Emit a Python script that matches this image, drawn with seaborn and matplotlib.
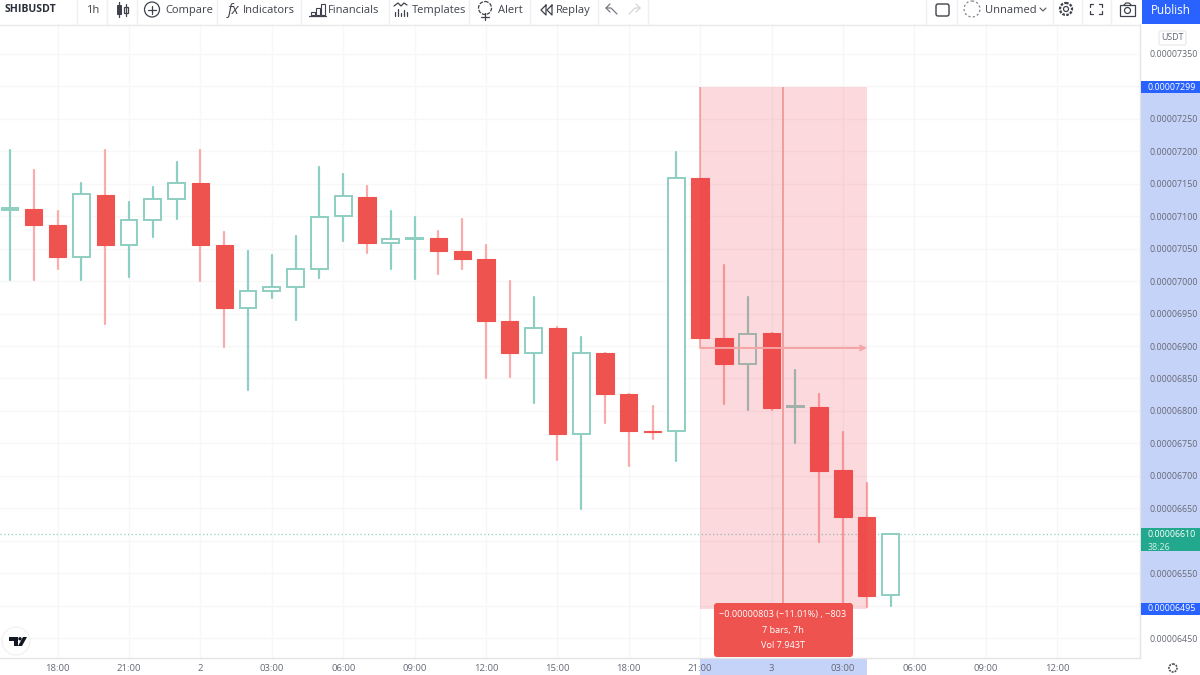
import pandas as pd
import seaborn as sns
import matplotlib.pyplot as plt
from matplotlib.patches import Rectangle, FancyBboxPatch, Circle, Polygon

# hourly candles, prices in units of 1e-8 USDT
opens = [7110, 7111, 7086, 7037, 7133, 7056, 7094, 7127, 7151, 7056, 6959, 6985, 6991, 7019, 7100,
         7130, 7059, 7065, 7066, 7046, 7034, 6939, 6889, 6928, 6764, 6889, 6826, 6769, 6769,
         7159, 6912, 6872, 6920, 6806, 6806, 6709, 6636, 6516]
closes = [7112, 7086, 7037, 7134, 7056, 7094, 7127, 7151, 7056, 6959, 6985, 6991, 7019, 7099, 7131,
          7059, 7065, 7066, 7046, 7034, 6939, 6889, 6928, 6764, 6889, 6826, 6769, 6767, 7159,
          6912, 6872, 6919, 6805, 6807, 6707, 6636, 6515, 6610]
highs = [7202, 7171, 7108, 7151, 7202, 7122, 7145, 7184, 7202, 7076, 7046, 7040, 7070, 7176, 7165,
         7146, 7108, 7099, 7077, 7096, 7056, 7000, 6976, 6930, 6914, 6889, 6826, 6808, 7199,
         7159, 7025, 6976, 6920, 6863, 6826, 6767, 6689, 6610]
lows = [7002, 7002, 7019, 7002, 6934, 7006, 7068, 7096, 7000, 6898, 6832, 6974, 6940, 7005, 7062,
        7043, 7019, 7003, 7011, 7019, 6851, 6852, 6812, 6724, 6649, 6781, 6715, 6757, 6723,
        6912, 6811, 6801, 6801, 6751, 6598, 6504, 6498, 6499]

price_ticks = [7350, 7250, 7200, 7150, 7100, 7050, 7000, 6950, 6900, 6850, 6800, 6750, 6700, 6650, 6550, 6450]
grid_prices = [7350, 7300, 7250, 7200, 7150, 7100, 7050, 7000, 6950, 6900, 6850, 6800, 6750, 6700,
               6650, 6600, 6550, 6500, 6450]
time_ticks = [2, 5, 8, 11, 14, 17, 20, 23, 26, 29, 32, 35, 38, 41, 44]
time_labels = ["18:00", "21:00", "2", "03:00", "06:00", "09:00", "12:00", "15:00", "18:00", "21:00",
               "3", "03:00", "06:00", "09:00", "12:00"]

range_start, range_end = 29, 36
range_top, range_bottom = 7299, 6495
last_price = 6610

RED = "#ef5350"
RED_WICK = "#f8acac"
TEAL = "#8fcec2"
TEXT = "#3f424c"
AXIS_TEXT = "#666975"
BLUE = "#2962ff"
PALE_BLUE = "#c6d3f8"
GRID = "#f7f7f8"

candles = pd.DataFrame({"open": opens, "close": closes, "high": highs, "low": lows})
candles["bar"] = candles.index
candles["up"] = candles["close"] >= candles["open"]

# two rows per candle, one line each for the wicks
wicks = candles.melt(id_vars=["bar", "up"], value_vars=["high", "low"], value_name="price")

sns.set_theme(style="white")
plt.rcParams["font.family"] = ["Open Sans", "DejaVu Sans"]

fig = plt.figure(figsize=(12, 6.75), dpi=100)
ax = fig.add_axes([0, 17 / 675, 1140 / 1200, 634 / 675])

sns.lineplot(data=wicks, x="bar", y="price", units="bar", hue="up", estimator=None, orient="y",
             sort=False, legend=False, palette={True: TEAL, False: RED_WICK}, lw=1.6, ax=ax, zorder=2)

up = candles[candles["up"]]
down = candles[~candles["up"]]
ax.bar(up["bar"], up["close"] - up["open"], bottom=up["open"], width=0.71,
       facecolor="white", edgecolor=TEAL, lw=1.4, zorder=3)
ax.bar(down["bar"], down["close"] - down["open"], bottom=down["open"], width=0.73,
       facecolor=RED, edgecolor=RED, lw=0.8, zorder=3)

ax.set_xlim(-0.42, 47.48)
ax.set_ylim(7350 - 1.541 * 604, 7350 + 1.541 * 30)
ax.set_yticks(grid_prices)
ax.set_yticklabels([f"{p * 1e-8:.8f}" if p in price_ticks else "" for p in grid_prices])
ax.yaxis.tick_right()
ax.set_xticks(time_ticks)
ax.set_xticklabels(time_labels)
ax.set_xlabel("")
ax.set_ylabel("")
ax.tick_params(axis="y", length=0, pad=7, labelsize=6.4, labelcolor=AXIS_TEXT)
ax.tick_params(axis="x", length=0, pad=4, labelsize=6.8, labelcolor=AXIS_TEXT)
ax.set_axisbelow(True)
ax.grid(True, color=GRID, lw=1)
for name in ["top", "left"]:
    ax.spines[name].set_visible(False)
for name in ["right", "bottom"]:
    ax.spines[name].set_color("#e3e4e8")
    ax.spines[name].set_linewidth(1)

# last price line
ax.axhline(last_price, color="#8fd0c3", lw=0.9, ls=(0, (1, 2)), zorder=1)

# measured range, drawn over the candles
mid_x = (range_start + range_end) / 2
mid_y = (range_top + range_bottom) / 2
ax.add_patch(Rectangle((range_start, range_bottom), range_end - range_start, range_top - range_bottom,
                       facecolor="#f23645", alpha=0.19, edgecolor="none", zorder=4))
ax.vlines(range_start, mid_y, range_top, color="#f8acac", lw=1.3, zorder=2)
ax.vlines(mid_x, range_bottom, range_top, color="#ef9393", lw=1.2, zorder=5)
ax.annotate("", xy=(range_end, mid_y), xytext=(range_start, mid_y),
            arrowprops=dict(arrowstyle="->", color="#f4a4a4", lw=1.4, mutation_scale=8,
                            shrinkA=0, shrinkB=0), zorder=5)

# highlighted stretches on both axes
ax.add_patch(Rectangle((1, range_bottom), 60 / 1140, range_top - range_bottom, facecolor=PALE_BLUE,
                       edgecolor="none", transform=ax.get_yaxis_transform(), clip_on=False, zorder=0))
ax.add_patch(Rectangle((range_start, -17 / 634), range_end - range_start, 17 / 634, facecolor=PALE_BLUE,
                       edgecolor="none", transform=ax.get_xaxis_transform(), clip_on=False, zorder=0))

# everything outside the plot goes on a pixel overlay
ui = fig.add_axes([0, 0, 1, 1], zorder=5)
ui.set_xlim(0, 1200)
ui.set_ylim(675, 0)
ui.axis("off")
ui.patch.set_alpha(0)


def price_y(p):
    return 54 + (7350 - p) * 0.6489


def tag(p, text, colour, height=12):
    y = price_y(p)
    ui.add_patch(Rectangle((1141, y - 6), 59, height, facecolor=colour, edgecolor="none"))
    ui.text(1172, y, text, color="white", fontsize=6.4, ha="center", va="center")


tag(range_top, "0.00007299", BLUE)
tag(last_price, "0.00006610", "#22a88c", height=23)
ui.text(1148, 547, "38:26", color="#d8f0ea", fontsize=6.4, ha="left", va="center")
tag(range_bottom, "0.00006495", BLUE)

# tooltip
ui.add_patch(FancyBboxPatch((716, 605), 135, 50, boxstyle="round,pad=2,rounding_size=3",
                            facecolor=RED, edgecolor="none"))
ui.text(783, 615, "−0.00000803 (−11.01%) , −803", color="white", fontsize=6.6, ha="center", va="center")
ui.text(783, 630, "7 bars, 7h", color="white", fontsize=6.6, ha="center", va="center")
ui.text(783, 645, "Vol 7.943T", color="white", fontsize=6.6, ha="center", va="center")

# toolbar
ui.plot([0, 1140], [24.5, 24.5], color="#e9eaee", lw=1)
for x in [77, 107, 137, 217, 301, 389, 469, 530, 598, 648, 926, 957, 1053, 1082, 1111]:
    ui.plot([x, x], [0, 24], color="#eeeff2", lw=1)
ui.text(5, 10, "SHIBUSDT", color="#2a2e39", fontsize=7.6, fontweight="bold", va="center")
for x, label in [(86, "1h"), (165, "Compare"), (243, "Indicators"), (328, "Financials"),
                 (412, "Templates"), (498, "Alert"), (556, "Replay"), (985, "Unnamed")]:
    ui.text(x, 10.5, label, color=TEXT, fontsize=8, va="center")

icon = dict(color="#3f424c", lw=0.9)
# candle type
ui.add_patch(Rectangle((117, 5), 4, 9, facecolor="#3f424c", edgecolor="#3f424c", lw=0.7))
ui.plot([119, 119], [2, 17], **icon)
ui.add_patch(Rectangle((124, 7), 4, 6, facecolor="white", edgecolor="#3f424c", lw=0.9))
ui.plot([126, 126], [4, 16], **icon)
# compare
ui.add_patch(Circle((152, 9.5), 7.5, facecolor="none", edgecolor="#3f424c", lw=0.9))
ui.plot([148, 156], [9.5, 9.5], **icon)
ui.plot([152, 152], [5.5, 13.5], **icon)
# indicators
ui.text(233, 10, "fx", color="#3f424c", fontsize=10.5, style="italic", ha="center", va="center")
# financials
for x, top in [(311, 12), (316, 8), (321, 4)]:
    ui.add_patch(Rectangle((x, top), 4, 15 - top, facecolor="none", edgecolor="#3f424c", lw=0.8))
ui.plot([309, 326], [15.5, 15.5], **icon)
# templates
ui.plot([394, 398, 401, 404, 407], [6, 3, 6, 3, 5], **icon)
for x, top in [(395, 12), (398, 9), (401, 13), (404, 10), (407, 12)]:
    ui.plot([x, x], [top, 16], **icon)
# alert
ui.add_patch(Circle((485, 8), 6.5, facecolor="none", edgecolor="#3f424c", lw=0.9, ls=(0, (3, 1))))
ui.plot([485, 485], [13, 20], **icon)
ui.plot([481, 489], [17, 17], **icon)
# replay
ui.plot([546, 541, 546, 546], [5, 10, 15, 5], **icon)
ui.plot([552, 547, 552, 552], [5, 10, 15, 5], **icon)
# undo and redo
ui.plot([617, 611, 606, 610], [14, 8, 8, 4], color="#777a85", lw=0.9)
ui.plot([606, 610], [8, 12], color="#777a85", lw=0.9)
ui.plot([629, 635, 640, 636], [14, 8, 8, 4], color="#d5d6da", lw=0.9)
ui.plot([640, 636], [8, 12], color="#d5d6da", lw=0.9)

# right side of the toolbar
ui.add_patch(FancyBboxPatch((936, 4), 13, 12, boxstyle="round,pad=0,rounding_size=2",
                            facecolor="none", edgecolor="#3f424c", lw=1))
ui.add_patch(Circle((972, 9), 8, facecolor="none", edgecolor="#777a85", lw=0.8, ls=(0, (2, 2))))
ui.plot([1040, 1043, 1046], [8, 11, 8], color="#555", lw=0.8)
ui.add_patch(Circle((1066, 9), 6, facecolor="none", edgecolor="#3f424c", lw=1.6, ls=(0, (1.2, 0.6))))
ui.add_patch(Circle((1066, 9), 2.5, facecolor="none", edgecolor="#3f424c", lw=0.9))
for sx, sy in [(-1, -1), (1, -1), (-1, 1), (1, 1)]:
    cx, cy = 1096 + sx * 6, 9 + sy * 5
    ui.plot([cx, cx - sx * 3], [cy, cy], **icon)
    ui.plot([cx, cx], [cy, cy - sy * 3], **icon)
ui.add_patch(Rectangle((1120, 5), 15, 11, facecolor="none", edgecolor="#3f424c", lw=0.9))
ui.add_patch(Circle((1127.5, 10.5), 3, facecolor="none", edgecolor="#3f424c", lw=0.9))
ui.plot([1124, 1126, 1129, 1131], [5, 3, 3, 5], **icon)
ui.add_patch(Rectangle((1142, 0), 58, 24, facecolor=BLUE, edgecolor="none"))
ui.text(1171, 10, "Publish", color="white", fontsize=8.4, ha="center", va="center")

# currency box
ui.add_patch(FancyBboxPatch((1159, 31), 27, 14, boxstyle="round,pad=0,rounding_size=2",
                            facecolor="white", edgecolor="#e6e7ea", lw=0.8))
ui.text(1172.5, 38, "USDT", color=AXIS_TEXT, fontsize=6.4, ha="center", va="center")

# logo and settings at the bottom
ui.add_patch(Circle((16, 641), 14, facecolor="white", edgecolor="#f0f0f2", lw=0.8))
ui.add_patch(Polygon([(9, 637), (18, 637), (18, 646), (14, 646), (14, 640.5), (9, 640.5)], facecolor="#131722", edgecolor="none"))
ui.add_patch(Circle((20, 638.8), 1.7, facecolor="#131722", edgecolor="none"))
ui.add_patch(Polygon([(23, 637), (27, 637), (22, 646), (18, 646)], facecolor="#131722", edgecolor="none"))
ui.add_patch(Circle((1173, 668), 4, facecolor="none", edgecolor="#555", lw=1.2, ls=(0, (1.2, 0.6))))

fig.savefig("out.png", dpi=100)
